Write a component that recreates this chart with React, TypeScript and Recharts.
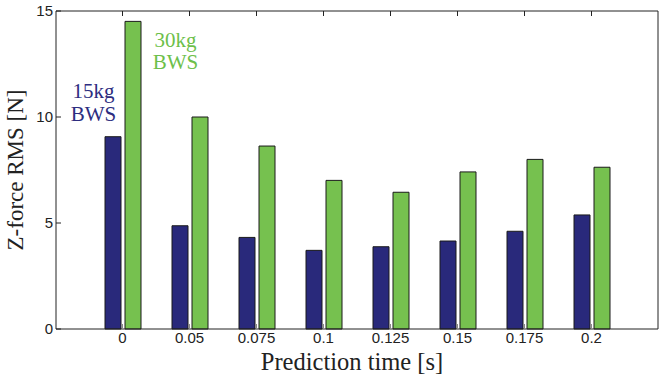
import {Bar, BarChart, ReferenceDot, XAxis, YAxis} from "recharts";

const categories = ["0", "0.05", "0.075", "0.1", "0.125", "0.15", "0.175", "0.2"];
const bws15 = [9.07, 4.87, 4.32, 3.71, 3.88, 4.15, 4.61, 5.38];
const bws30 = [14.51, 10.0, 8.63, 7.01, 6.45, 7.41, 8.0, 7.63];
const yTicks = [0, 5, 10, 15];

// text annotations, anchored at data coordinates
const notes = [
    {x: "0", y: 10.9, lines: ["15kg", "BWS"], color: "#2d2d80", dx: -29, gap: 23.5},
    {x: "0", y: 13.3, lines: ["30kg", "BWS"], color: "#6dbf4a", dx: 53, gap: 22},
];

const data = categories.map((t, i) => ({t, bws15: bws15[i], bws30: bws30[i]}));

const sans = "Liberation Sans, Arial, sans-serif";
const serif = "Liberation Serif, Times New Roman, serif";
const axisColor = "#222";
const tickLen = 5;
const xMargin = 3;
const yMargin = 3;

// tick label outside the box, tick mark pointing into the plot
const XTick = (props: any) => {
    const {x, y, payload} = props;
    const axisY = y - xMargin;
    return (
        <g>
            <line x1={x} x2={x} y1={axisY} y2={axisY - tickLen} stroke="#888"/>
            <text x={x} y={y} dy="0.71em" textAnchor="middle" fontFamily={sans} fontSize={15} fill={axisColor}>
                {payload.value}
            </text>
        </g>
    );
};

const YTick = (props: any) => {
    const {x, y, payload} = props;
    const axisX = x + yMargin;
    return (
        <g>
            <line x1={axisX} x2={axisX + tickLen} y1={y} y2={y} stroke={axisColor}/>
            <text x={x} y={y} dy="0.36em" textAnchor="end" fontFamily={sans} fontSize={15} fill={axisColor}>
                {payload.value}
            </text>
        </g>
    );
};

const noteLabel = (note: any) => (props: any) => {
    const vb = props.viewBox;
    const cx = vb.x + vb.width / 2 + note.dx;
    const cy = vb.y + vb.height / 2;
    return (
        <text x={cx} y={cy} textAnchor="middle" fill={note.color} fontFamily={serif} fontSize={21}>
            {note.lines.map((line: string, i: number) => (
                <tspan key={i} x={cx} dy={i === 0 ? 0 : note.gap}>{line}</tspan>
            ))}
        </text>
    );
};

const App = () => {
    return (
        <div style={{position: "absolute", left: 0, top: 0, background: "#fff"}}>
            <BarChart
                width={659}
                height={376}
                data={data}
                margin={{top: 11, right: 1, left: 0, bottom: 0}}
                barCategoryGap={16}
                barGap={4}
            >
                <XAxis
                    dataKey="t"
                    height={47}
                    padding={{left: 33, right: 33}}
                    tickSize={0}
                    tickMargin={xMargin}
                    tickLine={false}
                    axisLine={{stroke: axisColor}}
                    tick={<XTick/>}
                    label={{
                        value: "Prediction time [s]",
                        position: "insideBottom",
                        offset: 6,
                        dx: -5,
                        style: {fontFamily: serif, fontSize: 24.5, fill: axisColor},
                    }}
                />
                <XAxis
                    xAxisId="top"
                    dataKey="t"
                    orientation="top"
                    mirror
                    height={20}
                    padding={{left: 33, right: 33}}
                    tickSize={tickLen}
                    tickFormatter={() => ""}
                    axisLine={{stroke: axisColor}}
                    tickLine={{stroke: axisColor}}
                />
                <YAxis
                    width={56}
                    domain={[0, 15]}
                    ticks={yTicks}
                    tickSize={0}
                    tickMargin={yMargin}
                    tickLine={false}
                    axisLine={{stroke: axisColor}}
                    tick={<YTick/>}
                    label={{
                        value: "Z-force RMS [N]",
                        angle: -90,
                        position: "insideLeft",
                        offset: 15,
                        style: {textAnchor: "middle", fontFamily: serif, fontSize: 23, fill: axisColor},
                    }}
                />
                <YAxis
                    yAxisId="right"
                    orientation="right"
                    mirror
                    width={20}
                    domain={[0, 15]}
                    ticks={yTicks}
                    tickSize={tickLen}
                    tickFormatter={() => ""}
                    axisLine={{stroke: axisColor}}
                    tickLine={{stroke: axisColor}}
                />
                <Bar dataKey="bws15" fill="#29297b" stroke="#1a1a1a" strokeWidth={1} isAnimationActive={false}/>
                <Bar dataKey="bws30" fill="#76c14f" stroke="#1a1a1a" strokeWidth={1} isAnimationActive={false}/>
                {notes.map((n, i) => (
                    <ReferenceDot
                        key={i}
                        x={n.x}
                        y={n.y}
                        r={1}
                        fill="none"
                        stroke="none"
                        ifOverflow="visible"
                        label={noteLabel(n)}
                    />
                ))}
            </BarChart>
        </div>
    );
};

export default App;
